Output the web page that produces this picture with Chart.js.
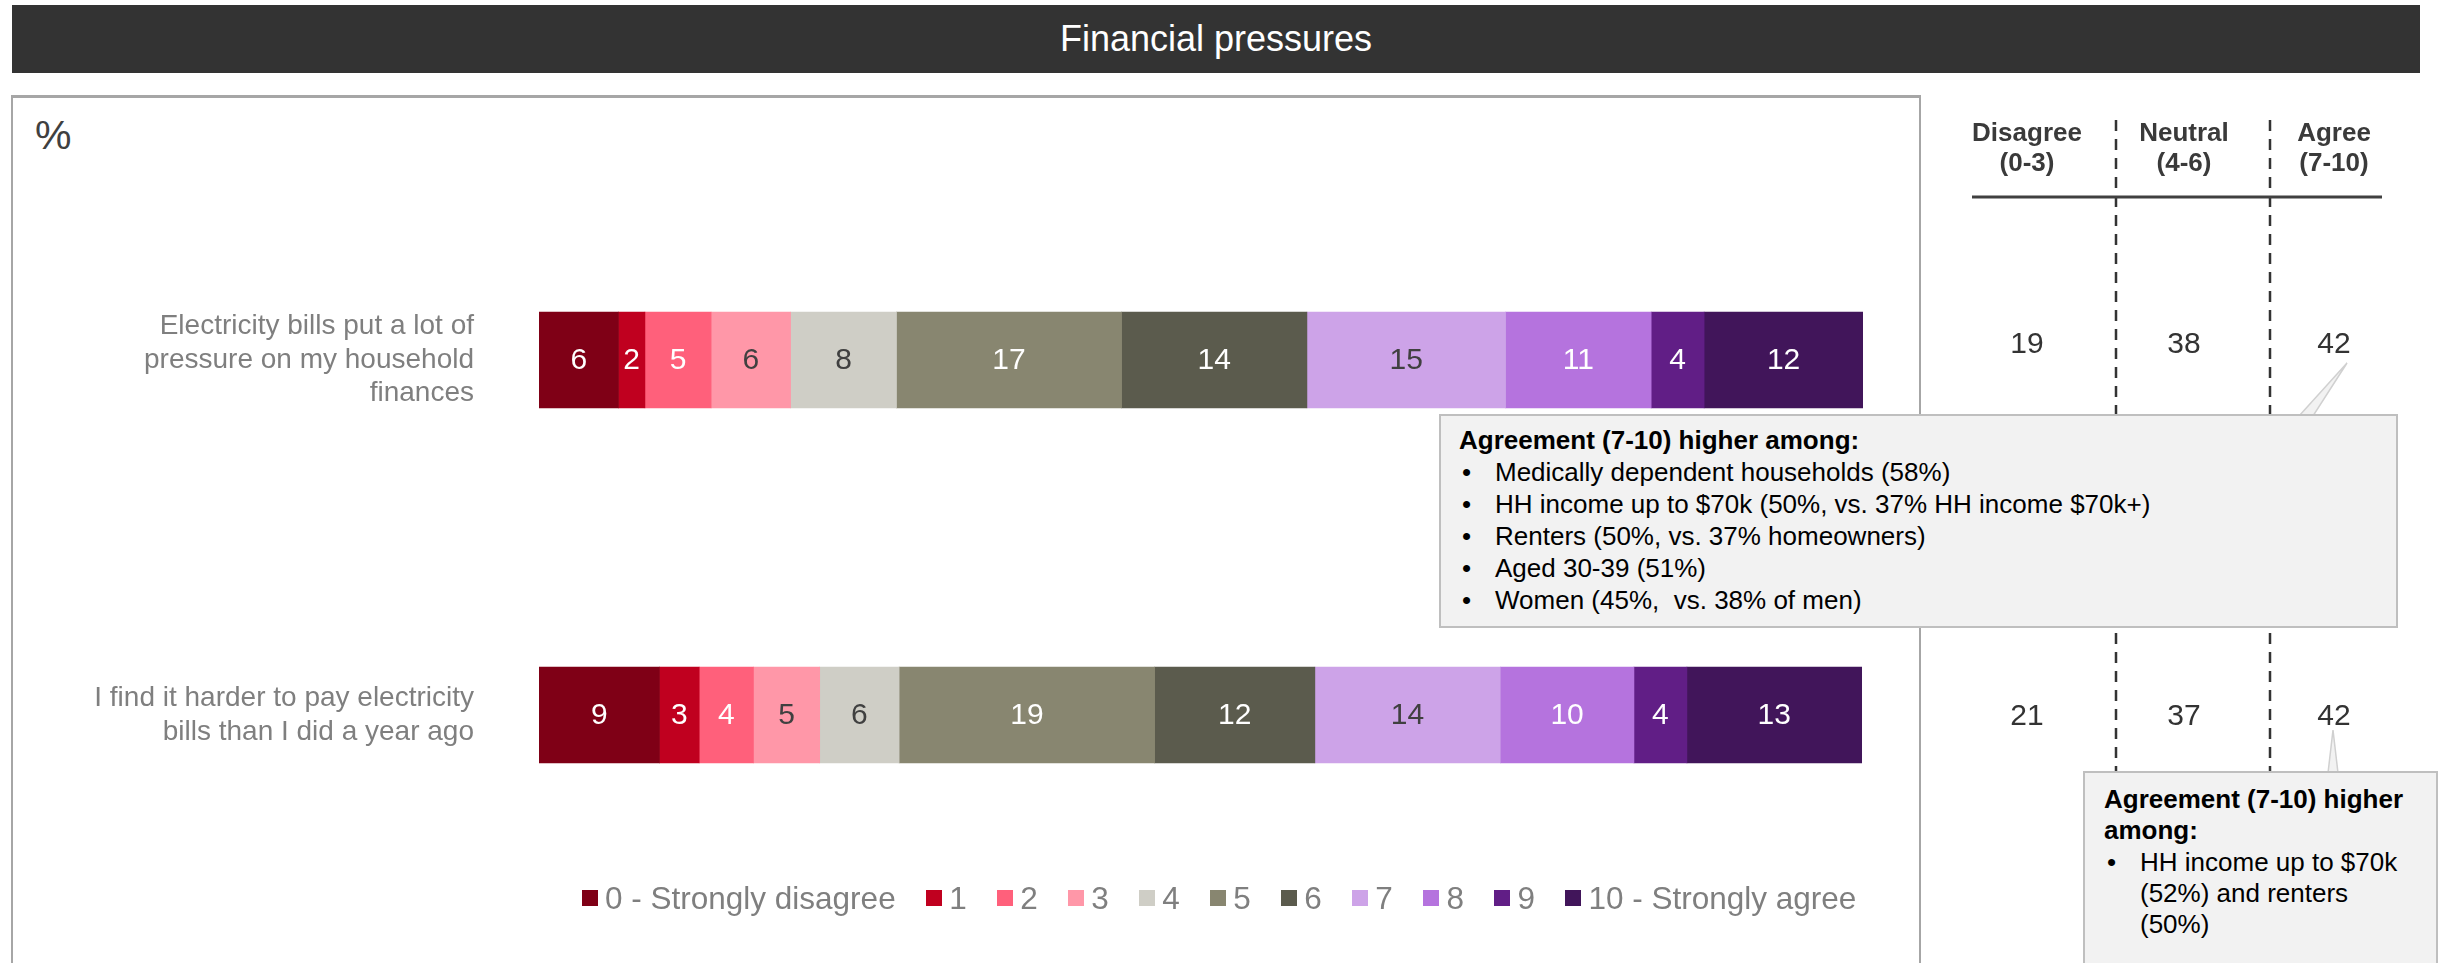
<!DOCTYPE html>
<html>
<head>
<meta charset="utf-8">
<title>Financial pressures</title>
<script src="https://cdn.jsdelivr.net/npm/chart.js@4.4.0/dist/chart.umd.min.js"></script>
<style>
body { margin:0; width:2443px; height:963px; overflow:hidden; background:#fff; position:relative;
       font-family:"Liberation Sans", Arial, sans-serif; }
#title { position:absolute; left:12px; top:5px; width:2408px; height:68px; background:#333333;
         color:#fff; font-size:36px; line-height:68px; text-align:center; }
#frame { position:absolute; left:11px; top:95px; width:1906px; height:900px;
         border:2px solid #a6a6a6; border-top-width:3px; }
#pct { position:absolute; left:35px; top:112px; font-size:41px; line-height:46px; color:#404040; }
#myChart { position:absolute; left:0; top:0; }
#deco { position:absolute; left:0; top:0; }
.head { position:absolute; width:160px; text-align:center; font-size:26px; font-weight:bold;
        line-height:30px; color:#3a3a3a; top:117px; }
.val { position:absolute; width:100px; text-align:center; font-size:30px; line-height:34px; color:#333; }
.callout { position:absolute; box-sizing:border-box; background:#f2f2f2; border:2px solid #bfbfbf;
           font-size:26px; line-height:32px; color:#000; white-space:nowrap; }
.callout b { display:block; }
.callout .li { position:relative; padding-left:36px; }
.callout .li:before { content:"\2022"; position:absolute; left:3px; }
#legend { position:absolute; left:582px; top:880px; display:flex; align-items:center;
          font-size:31.5px; line-height:36px; color:#7f7f7f; white-space:nowrap; }
#legend .item { display:flex; align-items:center; margin-right:30.5px; }
#legend .sw { width:16px; height:16px; margin-right:7px; }
</style>
</head>
<body>
<div id="title">Financial pressures</div>
<div id="frame"></div>
<div id="pct">%</div>
<canvas id="myChart" width="2443" height="963"></canvas>

<svg id="deco" width="2443" height="963">
  <line x1="2116" y1="120" x2="2116" y2="963" stroke="#333" stroke-width="2.5" stroke-dasharray="11 8"/>
  <line x1="2270" y1="120" x2="2270" y2="963" stroke="#333" stroke-width="2.5" stroke-dasharray="11 8"/>
  <line x1="1972" y1="197" x2="2382" y2="197" stroke="#404040" stroke-width="3"/>
  <polygon points="2299,416 2347,363 2313,416" fill="#f2f2f2" stroke="#d0d0d0" stroke-width="1.5"/>
  <polygon points="2328,773 2333,730 2338,773" fill="#f2f2f2" stroke="#d0d0d0" stroke-width="1.5"/>
</svg>

<div id="summary"></div>

<div class="callout" style="left:1439px; top:414px; width:959px; height:214px; padding:8px 0 0 18px;">
  <b>Agreement (7-10) higher among:</b>
  <div class="li">Medically dependent households (58%)</div>
  <div class="li">HH income up to $70k (50%, vs. 37% HH income $70k+)</div>
  <div class="li">Renters (50%, vs. 37% homeowners)</div>
  <div class="li">Aged 30-39 (51%)</div>
  <div class="li">Women (45%,&nbsp; vs. 38% of men)</div>
</div>

<div class="callout" style="left:2083px; top:771px; width:355px; height:230px; padding:11px 0 0 19px; line-height:31.3px;">
  <b>Agreement (7-10) higher<br>among:</b>
  <div class="li">HH income up to $70k<br>(52%) and renters<br>(50%)</div>
</div>

<div id="legend"></div>

<script>
// Données du graphique

const statements = [
  ["Electricity bills put a lot of", "pressure on my household", "finances"],
  ["I find it harder to pay electricity", "bills than I did a year ago"]
];
const scalePoints = ["0 - Strongly disagree", "1", "2", "3", "4", "5", "6", "7", "8", "9", "10 - Strongly agree"];
const row1 = [6, 2, 5, 6, 8, 17, 14, 15, 11, 4, 12];
const row2 = [9.1, 3, 4.1, 5, 6, 19.3, 12.1, 14, 10.1, 4, 13.2];
const colours = ['#7f0016', '#c0001f', '#ff607b', '#ff97a8', '#cfcec6', '#888670',
                 '#5b5b4d', '#cda3e8', '#b573de', '#611e86', '#41155a'];
const labelColours = ['#fff', '#fff', '#fff', '#404040', '#404040', '#fff',
                      '#fff', '#404040', '#fff', '#fff', '#fff'];

// Résumé à droite
const groups = ["Disagree", "Neutral", "Agree"];
const groupRanges = ["(0-3)", "(4-6)", "(7-10)"];
const disagree = [19, 21];
const neutral = [38, 37];
const agree = [42, 42];

// Partie résumé (texte)
const colX = [2027, 2184, 2334];
const rowY = [343, 715];
const summary = document.getElementById('summary');
groups.forEach(function (g, i) {
  const h = document.createElement('div');
  h.className = 'head';
  h.style.left = (colX[i] - 80) + 'px';
  h.innerHTML = g + '<br>' + groupRanges[i];
  summary.appendChild(h);
});
[disagree, neutral, agree].forEach(function (col, i) {
  col.forEach(function (v, j) {
    const d = document.createElement('div');
    d.className = 'val';
    d.style.left = (colX[i] - 50) + 'px';
    d.style.top = (rowY[j] - 17) + 'px';
    d.textContent = v;
    summary.appendChild(d);
  });
});

// Partie Chart.JS

Chart.defaults.font.family = '"Liberation Sans", Arial, sans-serif';

const barLabels = {
  id: 'barLabels',
  afterDatasetsDraw(chart) {
    const ctx = chart.ctx;
    ctx.save();
    ctx.font = '30px "Liberation Sans", Arial, sans-serif';
    ctx.textAlign = 'center';
    ctx.textBaseline = 'middle';
    chart.data.datasets.forEach(function (ds, i) {
      chart.getDatasetMeta(i).data.forEach(function (bar, j) {
        ctx.fillStyle = labelColours[i];
        ctx.fillText(Math.round(ds.data[j]), (bar.x + bar.base) / 2, bar.y + 1);
      });
    });
    ctx.restore();
  }
};

const data = {
  labels: statements,
  datasets: scalePoints.map(function (p, i) {
    return {
      label: p,
      data: [row1[i], row2[i]],
      backgroundColor: colours[i],
      borderWidth: 0,
      barThickness: 96
    };
  })
};

const config = {
  type: 'bar',
  data: data,
  options: {
    indexAxis: 'y',
    responsive: false,
    animation: false,
    devicePixelRatio: 1,
    layout: { padding: { left: 0, right: 580, top: 182.5, bottom: 70.5 } },
    scales: {
      x: { stacked: true, min: 0, max: 100, display: false },
      y: {
        stacked: true,
        grid: { display: false, drawTicks: false },
        border: { display: false },
        ticks: {
          padding: 65,
          color: '#7f7f7f',
          font: { size: 28, lineHeight: 1.2 }
        },
        afterFit: function (scale) {
          scale.width = 539;
          scale.paddingTop = 0;
          scale.paddingBottom = 0;
        }
      }
    },
    plugins: {
      legend: { display: false },
      tooltip: { enabled: false }
    }
  },
  plugins: [barLabels]
};

var myChart = new Chart(document.getElementById('myChart'), config);

// Légende HTML
const legend = document.getElementById('legend');
myChart.data.datasets.forEach(function (ds) {
  const item = document.createElement('div');
  item.className = 'item';
  const sw = document.createElement('span');
  sw.className = 'sw';
  sw.style.background = ds.backgroundColor;
  item.appendChild(sw);
  item.appendChild(document.createTextNode(ds.label));
  legend.appendChild(item);
});

// Fin de la partie Chart.JS
</script>
</body>
</html>
